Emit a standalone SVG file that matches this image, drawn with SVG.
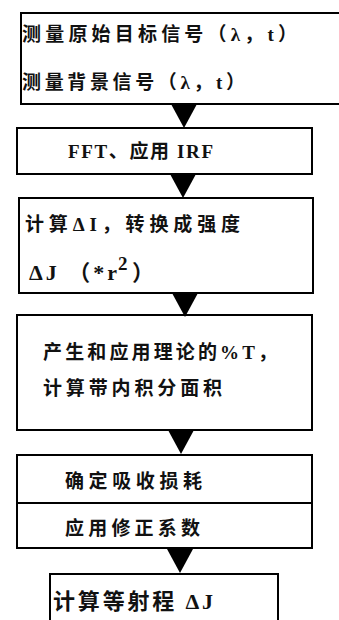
<svg xmlns="http://www.w3.org/2000/svg" width="339" height="620" viewBox="0 0 339 620">
<style>
.box{fill:#fff;stroke:#000;stroke-width:2}
.t{font-family:"Liberation Serif","Noto Sans CJK SC",serif;font-weight:bold;font-size:19px;fill:#111;dominant-baseline:central}
.big{font-size:22px}
.arr{fill:#000}
</style>
<defs>
<polygon id="tri" points="-13,0 13,0 0,24"/>
</defs>
<rect width="339" height="620" fill="#fff"/>
<g id="n1">
<rect class="box" x="21" y="13" width="330" height="91"/>
<text class="t" x="22" y="34" textLength="275" lengthAdjust="spacing">测量原始目标信号（λ，t）</text>
<text class="t" x="22" y="82" textLength="223" lengthAdjust="spacing">测量背景信号（λ，t）</text>
</g>
<g id="n2">
<rect class="box" x="17" y="128" width="295" height="46"/>
<text class="t" x="68" y="151" textLength="145" lengthAdjust="spacing">FFT、应用 IRF</text>
</g>
<g id="n3">
<rect class="box" x="19" y="198" width="294" height="95"/>
<text class="t" x="25" y="224" textLength="215" lengthAdjust="spacing">计算ΔI，转换成强度</text>
<text class="t big" x="29" y="272" textLength="88" lengthAdjust="spacing">ΔJ （*r</text>
<text class="t" x="118" y="263" font-size="15">2</text>
<text class="t big" x="132" y="272">）</text>
</g>
<g id="n4">
<rect class="box" x="17" y="315" width="295" height="115"/>
<text class="t" x="43" y="352" textLength="234" lengthAdjust="spacing">产生和应用理论的%T，</text>
<text class="t" x="43" y="388" textLength="179" lengthAdjust="spacing">计算带内积分面积</text>
</g>
<g id="n5">
<rect class="box" x="17" y="455" width="295" height="93"/>
<line x1="17" y1="503" x2="312" y2="503" stroke="#000" stroke-width="2"/>
<text class="t" x="65" y="481" textLength="137" lengthAdjust="spacing">确定吸收损耗</text>
<text class="t" x="65" y="528" textLength="135" lengthAdjust="spacing">应用修正系数</text>
</g>
<g id="n6">
<rect class="box" x="50" y="574" width="228" height="60"/>
<text class="t big" x="53" y="601" textLength="160" lengthAdjust="spacing">计算等射程 ΔJ</text>
</g>
<g id="connectors" class="arr">
<use href="#tri" x="184" y="104"/>
<use href="#tri" x="183" y="174"/>
<use href="#tri" x="185" y="293"/>
<use href="#tri" x="181" y="430"/>
<use href="#tri" x="180" y="549"/>
</g>
</svg>
